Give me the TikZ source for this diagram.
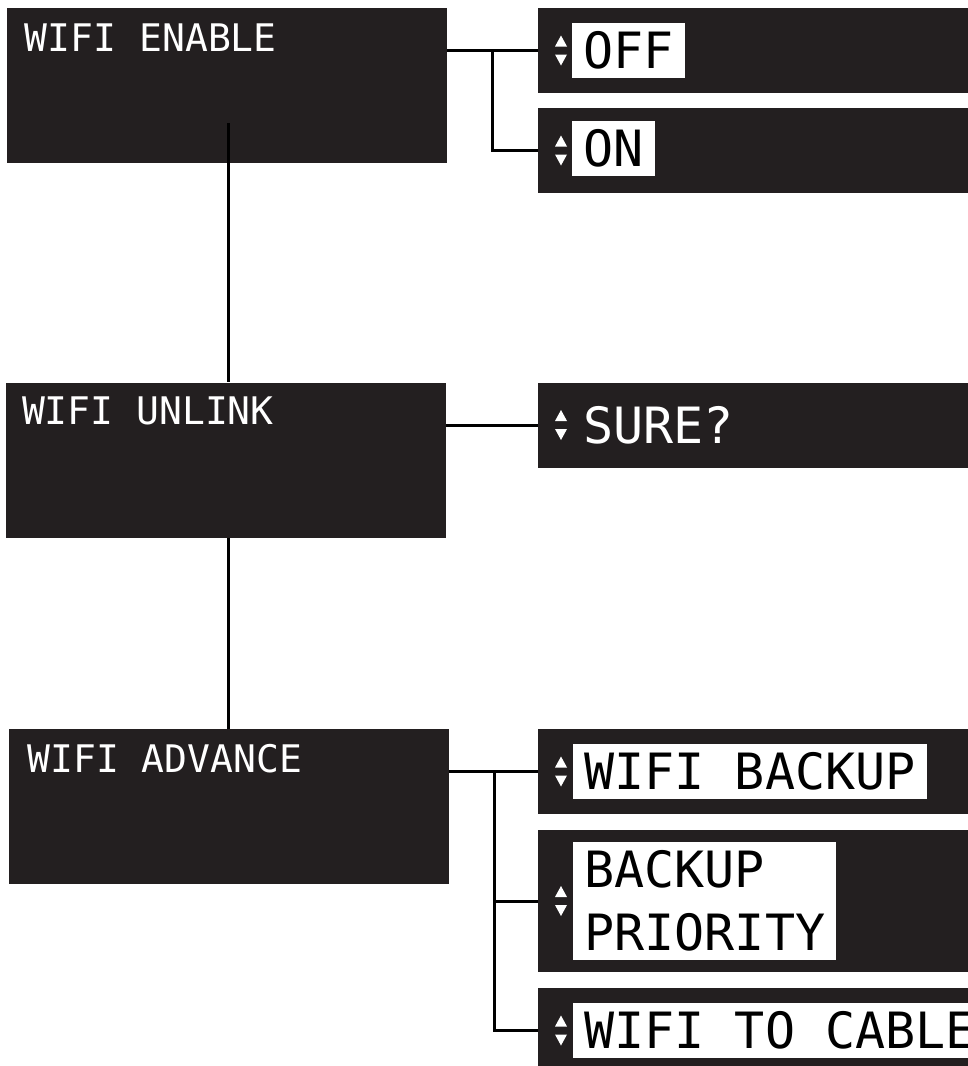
\documentclass[tikz,border=0pt]{standalone}
\usepackage{fontspec}
\usepackage{tikz}
\usetikzlibrary{calc,positioning}
\newfontfamily\lcdfont{DejaVu Sans Mono}
\definecolor{lcdbg}{RGB}{35,31,32}
% up/down arrows at the left of a choice box
\newcommand\updown[1]{%
  \fill[white] ($(#1.west)+(17,-4)$) -- ++(12,0) -- ++(-6,-11) -- cycle;
  \fill[white] ($(#1.west)+(17,4)$) -- ++(12,0) -- ++(-6,11) -- cycle;}

\begin{document}
\begin{tikzpicture}[x=0.5pt,y=-0.5pt,
  menu/.style={fill=lcdbg, minimum width=220pt, minimum height=77.5pt, inner sep=0pt},
  opt/.style={fill=lcdbg, anchor=west, minimum width=218.5pt, minimum height=42.5pt,
              inner sep=0pt},
  menutxt/.style={anchor=base west, inner sep=0pt, text=white,
                  font=\lcdfont\fontsize{19pt}{23pt}\selectfont},
  sel/.style={anchor=west, fill=white, text=black, inner xsep=5.5pt, inner ysep=4.5pt,
              align=left, font=\lcdfont\fontsize{25pt}{31.5pt}\selectfont},
  unsel/.style={sel, fill=none, text=white},
  wire/.style={line width=1.5pt}]
\useasboundingbox (0,0) rectangle (968,1066);
\clip (0,0) rectangle (968,1066);
% ---- menu entries ----
\node[menu] (enable)  at (227,85.5)  {};
\node[menu] (unlink)  at (226,460)   {};
\node[menu] (advance) at (228.5,806.5) {};
\node[menutxt] (enablet)  at ($(enable.north west)+(18,44)$)  {WIFI ENABLE};
\node[menutxt] (unlinkt)  at ($(unlink.north west)+(16,42)$)  {WIFI UNLINK};
\node[menutxt] (advancet) at ($(advance.north west)+(19,44)$) {WIFI ADVANCE};
% ---- choices ----
\node[opt] (off)     at (538,50.5)   {};
\node[opt] (on)      at (538,150.5)  {};
\node[opt] (sure)    at (538,425)    {};
\node[opt] (backup)  at (538,771.5)  {};
\node[opt, minimum height=71pt] (priority) at (538,901) {};
\node[opt] (tocable) at (538,1030.5) {};
\node[sel]   (offt)      at ($(off.west)+(34,0)$)      {OFF};
\node[sel]   (ont)       at ($(on.west)+(34,-2)$)      {ON};
\node[unsel] (suret)     at ($(sure.west)+(34,0)$)     {SURE?};
\node[sel]   (backupt)   at ($(backup.west)+(35,0)$)   {WIFI BACKUP};
\node[sel]   (priorityt) at ($(priority.west)+(35,0)$) {BACKUP\\PRIORITY};
\node[sel]   (tocablet)  at ($(tocable.west)+(35,0)$)  {WIFI TO CABLE};
\updown{off}
\updown{on}
\updown{sure}
\updown{backup}
\updown{priority}
\updown{tocable}
% ---- menu spine ----
\coordinate (top) at (228,123);
\draw[wire] (top) -- (top |- unlink.north);
\draw[wire] (top |- unlink.south) -- (top |- advance.north);
% ---- branches ----
\coordinate (j1) at (492,0);
\coordinate (j3) at (494,0);
\draw[wire] (enable.east |- off.west) -- (off.west);
\draw[wire] (j1 |- off.west) |- (on.west);
\draw[wire] (unlink.east |- sure.west) -- (sure.west);
\draw[wire] (advance.east |- backup.west) -- (backup.west);
\draw[wire] (j3 |- backup.west) |- (priority.west);
\draw[wire] (j3 |- backup.west) |- (tocable.west);
\end{tikzpicture}
\end{document}
